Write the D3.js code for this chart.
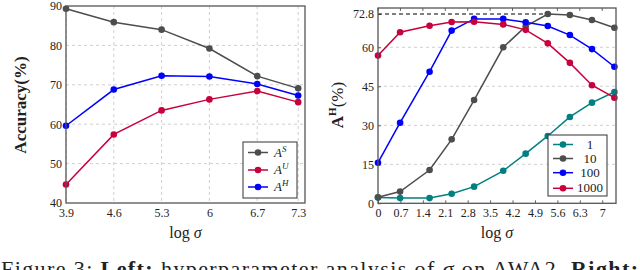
<!DOCTYPE html>
<html>
<head>
<meta charset="utf-8">
<script src="https://cdn.jsdelivr.net/npm/d3@7"></script>
<style>
  body { margin: 0; background: #fff; }
  svg { display: block; }
  text { font-family: "Liberation Serif", "DejaVu Serif", serif; fill: #222; }
</style>
</head>
<body>
<svg id="chart" width="640" height="270"></svg>
<script>
// left panel: accuracy vs log sigma
var leftX = [3.9, 4.6, 5.3, 6.0, 6.7, 7.3];
var leftXTicks = ["3.9", "4.6", "5.3", "6", "6.7", "7.3"];
var accS = [89.3, 85.9, 84.0, 79.2, 72.2, 69.1];
var accU = [44.7, 57.4, 63.5, 66.3, 68.4, 65.6];
var accH = [59.6, 68.8, 72.3, 72.1, 70.2, 67.3];
var leftYTicks = [40, 50, 60, 70, 80, 90];

// right panel: A^H vs log sigma, for different settings
var rightX = [0, 0.69, 1.61, 2.30, 3.00, 3.91, 4.61, 5.30, 5.99, 6.68, 7.38];
var rightXTicks = [0, 0.7, 1.4, 2.1, 2.8, 3.5, 4.2, 4.9, 5.6, 6.3, 7];
var h1 = [2.2, 2.0, 2.0, 3.7, 6.4, 12.5, 19.1, 25.9, 33.2, 38.7, 42.8];
var h10 = [2.3, 4.5, 12.8, 24.6, 39.7, 60.0, 68.0, 72.8, 72.4, 70.5, 67.5];
var h100 = [15.6, 31.0, 50.6, 66.4, 70.9, 70.9, 69.6, 68.2, 64.7, 59.3, 52.5];
var h1000 = [56.8, 65.8, 68.3, 69.7, 69.8, 68.8, 66.7, 61.5, 54.0, 45.4, 40.6];
var rightYTicks = [0, 15, 30, 45, 60, 72.8];
var bestH = 72.8;

var gray = "#4d4d4d", red = "#c8003c", blue = "#0000ff", teal = "#008080";

var svg = d3.select("#chart");

function drawPanel(opt) {
    var g = svg.append("g");
    var x = d3.scaleLinear().domain(opt.xDomain).range([opt.left, opt.right]);
    var y = d3.scaleLinear().domain(opt.yDomain).range([opt.bottom, opt.top]);

    // grid
    g.selectAll(".hgrid")
        .data(opt.yGrid)
        .enter()
        .append("line")
        .attr("x1", opt.left).attr("x2", opt.right)
        .attr("y1", d => y(d)).attr("y2", d => y(d))
        .attr("stroke", "#cfcfcf")
        .attr("stroke-dasharray", "3,3");
    if (opt.vGrid) {
        g.selectAll(".vgrid")
            .data(opt.xTickVals)
            .enter()
            .append("line")
            .attr("x1", d => x(d)).attr("x2", d => x(d))
            .attr("y1", opt.top).attr("y2", opt.bottom)
            .attr("stroke", "#cfcfcf")
            .attr("stroke-dasharray", "3,3");
    }

    // axes via d3-axis, then restyle
    var xAxis = g.append("g")
        .attr("transform", "translate(0," + opt.bottom + ")")
        .call(d3.axisBottom(x).tickValues(opt.xTickVals).tickFormat((d, i) => opt.xTickLabels[i]).tickSizeInner(-opt.tickLen).tickPadding(5));
    var yAxis = g.append("g")
        .attr("transform", "translate(" + opt.left + ",0)")
        .call(d3.axisLeft(y).tickValues(opt.yTickVals).tickFormat(d => d).tickSizeInner(-opt.tickLen).tickPadding(4));
    [xAxis, yAxis].forEach(function (a) {
        a.select(".domain").remove();
        a.selectAll(".tick line").attr("stroke", "#666");
        a.selectAll(".tick text")
            .attr("font-size", 12)
            .attr("fill", "#222");
    });
    if (opt.topTicks) {
        g.selectAll(".ttick")
            .data(opt.xTickVals)
            .enter()
            .append("line")
            .attr("x1", d => x(d)).attr("x2", d => x(d))
            .attr("y1", opt.top).attr("y2", opt.top + opt.tickLen)
            .attr("stroke", "#666");
    }

    if (opt.extra) opt.extra(g, x, y);

    // series
    var line = d3.line().x((d, i) => x(opt.xs[i])).y(d => y(d));
    opt.series.forEach(function (s) {
        g.append("path")
            .datum(s.values)
            .attr("d", line)
            .attr("fill", "none")
            .attr("stroke", s.color)
            .attr("stroke-width", 1.5);
        g.selectAll(null)
            .data(s.values)
            .enter()
            .append("circle")
            .attr("cx", (d, i) => x(opt.xs[i]))
            .attr("cy", d => y(d))
            .attr("r", 3.3)
            .attr("fill", s.color);
    });

    // frame
    g.append("rect")
        .attr("x", opt.left).attr("y", opt.top)
        .attr("width", opt.right - opt.left).attr("height", opt.bottom - opt.top)
        .attr("fill", "none")
        .attr("stroke", "#555")
        .attr("stroke-width", 1.3);

    // axis title
    var xt = g.append("text")
        .attr("x", (opt.left + opt.right) / 2)
        .attr("y", opt.bottom + 35)
        .attr("text-anchor", "middle")
        .attr("font-size", 16);
    xt.append("tspan").text("log ");
    xt.append("tspan").attr("font-style", "italic").text("σ");

    // legend
    var lg = g.append("g");
    lg.append("rect")
        .attr("x", opt.legend.x).attr("y", opt.legend.y)
        .attr("width", opt.legend.w).attr("height", opt.legend.h)
        .attr("fill", "#fff")
        .attr("stroke", "#333")
        .attr("stroke-width", 1);
    opt.series.forEach(function (s, i) {
        var ly = opt.legend.rows[i];
        var lx = opt.legend.x + 5;
        lg.append("line")
            .attr("x1", lx).attr("x2", lx + 20)
            .attr("y1", ly).attr("y2", ly)
            .attr("stroke", s.color)
            .attr("stroke-width", 1.5);
        lg.append("circle")
            .attr("cx", lx + 10).attr("cy", ly).attr("r", 3.3)
            .attr("fill", s.color);
        var t = lg.append("text")
            .attr("y", ly + 4)
            .attr("font-size", 13);
        if (opt.legend.center) {
            t.attr("x", opt.legend.labelX).attr("text-anchor", "middle").text(s.name);
        } else {
            t.attr("x", lx + 26);
            t.append("tspan").attr("font-style", "italic").text("A");
            t.append("tspan").attr("font-style", "italic").attr("font-size", 9).attr("dy", -5).text(s.sup);
        }
    });
    return g;
}

drawPanel({
    left: 66, right: 305, top: 6, bottom: 203,
    xDomain: [3.9, 7.4], yDomain: [40, 90],
    xs: leftX,
    xTickVals: leftX, xTickLabels: leftXTicks,
    yTickVals: leftYTicks, yGrid: [50, 60, 70, 80],
    vGrid: true, topTicks: false, tickLen: 0,
    series: [
        { values: accS, color: gray, sup: "S" },
        { values: accU, color: red, sup: "U" },
        { values: accH, color: blue, sup: "H" }
    ],
    legend: { x: 243, y: 142, w: 54, h: 56, rows: [152.5, 170, 187] }
});

drawPanel({
    left: 378, right: 616, top: 8, bottom: 203.3,
    xDomain: [0, 7.43], yDomain: [0, 75.1],
    xs: rightX,
    xTickVals: rightXTicks, xTickLabels: rightXTicks.map(String),
    yTickVals: rightYTicks, yGrid: [15, 30, 45, 60],
    vGrid: false, topTicks: true, tickLen: 3,
    series: [
        { values: h1, color: teal, name: "1" },
        { values: h10, color: gray, name: "10" },
        { values: h100, color: blue, name: "100" },
        { values: h1000, color: red, name: "1000" }
    ],
    legend: { x: 548, y: 135, w: 59, h: 61, rows: [144.5, 158.5, 172.7, 188.3], center: true, labelX: 590 },
    extra: function (g, x, y) {
        g.append("line")
            .attr("x1", x(0)).attr("x2", x(rightX[h10.indexOf(bestH)]))
            .attr("y1", y(bestH)).attr("y2", y(bestH))
            .attr("stroke", "#000")
            .attr("stroke-width", 1.2)
            .attr("stroke-dasharray", "4,3");
    }
});

// y axis titles
svg.append("text")
    .attr("transform", "translate(26,105) rotate(-90)")
    .attr("text-anchor", "middle")
    .attr("font-size", 17)
    .attr("font-weight", "bold")
    .text("Accuracy(%)");

var yt = svg.append("text")
    .attr("transform", "translate(343,105) rotate(-90)")
    .attr("text-anchor", "middle")
    .attr("font-size", 17);
yt.append("tspan").attr("font-weight", "bold").text("A");
yt.append("tspan").attr("font-weight", "bold").attr("font-size", 11).attr("dy", -7).text("H");
yt.append("tspan").attr("dy", 7).text("(%)");

// caption (cut off at the bottom of the frame, as in the source figure)
var cap = svg.append("text")
    .attr("x", 1).attr("y", 276)
    .style("font-family", "'Liberation Serif', serif")
    .attr("font-size", 22)
    .attr("textLength", 637)
    .attr("lengthAdjust", "spacing");
cap.append("tspan").text("Figure 3: ");
cap.append("tspan").attr("font-weight", "bold").text("Left:");
cap.append("tspan").text(" hyperparameter analysis of ");
cap.append("tspan").attr("font-style", "italic").text("σ");
cap.append("tspan").text(" on AWA2. ");
cap.append("tspan").attr("font-weight", "bold").text("Right:");
</script>
</body>
</html>
